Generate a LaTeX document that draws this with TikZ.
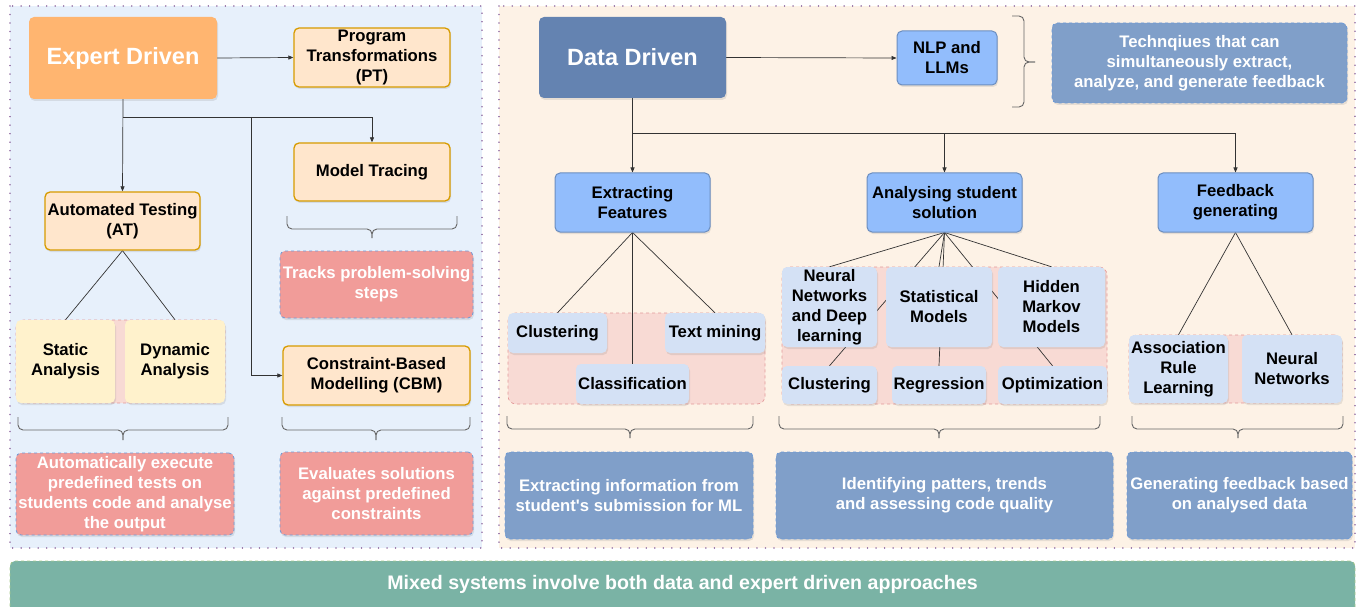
\documentclass[tikz,border=0pt]{standalone}
\usepackage{fontspec}
\setmainfont{Liberation Sans}[Ligatures=TeXOff]
\usetikzlibrary{arrows.meta,shadows}
\definecolor{lpanel}{HTML}{E7F0FB}
\definecolor{rpanel}{HTML}{FDF2E6}
\definecolor{panelline}{HTML}{9673A6}
\definecolor{edfill}{HTML}{FFB570}
\definecolor{orfill}{HTML}{FFE6CC}
\definecolor{orline}{HTML}{D79B00}
\definecolor{yelfill}{HTML}{FFF2CC}
\definecolor{grpfill}{HTML}{F8DAD4}
\definecolor{grpline}{HTML}{E39A9A}
\definecolor{redfill}{HTML}{F19C99}
\definecolor{dashblue}{HTML}{6C9AD8}
\definecolor{ddfill}{HTML}{6483B1}
\definecolor{midblue}{HTML}{92BDFC}
\definecolor{midline}{HTML}{6C8EBF}
\definecolor{smallfill}{HTML}{D4E1F5}
\definecolor{descblue}{HTML}{809FC9}
\definecolor{mixfill}{HTML}{7AB3A5}
\definecolor{mixline}{HTML}{A7C98C}
\definecolor{linec}{HTML}{333333}
\definecolor{bracec}{HTML}{666666}
\pgfdeclarelayer{panel}
\pgfdeclarelayer{edges}
\pgfsetlayers{panel,edges,main}
\begin{document}
\begin{tikzpicture}[x=1pt,y=-1pt,
  base/.style={rounded corners=5pt, align=center, inner sep=0pt,
    font=\fontsize{16.7}{20}\selectfont\bfseries,
    drop shadow={opacity=0.18, shadow xshift=1pt, shadow yshift=-2pt}},
  bigbox/.style={base, font=\fontsize{23.5}{26}\selectfont\bfseries, text=white},
  orbox/.style={base, fill=orfill, draw=orline, line width=1.3pt},
  yelbox/.style={base, fill=yelfill},
  redbox/.style={base, fill=redfill, draw=dashblue, dashed, line width=0.8pt, text=white},
  bluebox/.style={base, fill=midblue, draw=midline, line width=1pt},
  smallbox/.style={base, fill=smallfill},
  descbox/.style={base, fill=descblue, draw=dashblue, dashed, line width=0.8pt, text=white},
  grp/.style={rounded corners=8pt, fill=grpfill, draw=grpline, dashed, line width=0.7pt, inner sep=0pt},
  panelbox/.style={draw=panelline, line width=1.6pt, dash pattern=on 0.01pt off 8.5pt, line cap=round},
  conn/.style={draw=linec, line width=0.7pt},
  arr/.style={conn, -{Triangle[length=5pt,width=4pt]}},
  brc/.style={draw=bracec, line width=0.9pt, rounded corners=5pt}
]
\useasboundingbox (0,0) rectangle (1361,607);

% ---------- panels and groups ----------
\begin{pgfonlayer}{panel}
  \fill[lpanel] (10,6) rectangle (482,548);
  \draw[panelbox] (10,6) rectangle (482,548);
  \fill[rpanel] (499,6) rectangle (1355,548);
  \draw[panelbox] (499,6) rectangle (1355,548);
  \node[grp, minimum width=209, minimum height=83] (g1) at (120.5,361.5) {};
  \node[grp, minimum width=257, minimum height=91] (g2) at (636.5,358.5) {};
  \node[grp, minimum width=325, minimum height=137] (g3) at (944.5,335.5) {};
  \node[grp, minimum width=213, minimum height=68] (g4) at (1235.5,369) {};
\end{pgfonlayer}

% ---------- bottom bar ----------
\node[rounded corners=5pt, fill=mixfill, draw=mixline, dashed, line width=0.8pt,
  minimum width=1345, minimum height=52, inner sep=0pt, text=white,
  font=\fontsize{19.6}{22}\selectfont\bfseries] (mix) at (682.5,587)
  {\raisebox{9pt}{Mixed systems involve both data and expert driven approaches}};

% ---------- expert driven ----------
\node[bigbox, fill=edfill, minimum width=188, minimum height=82] (ed) at (123,58) {Expert Driven};
\node[orbox, minimum width=156, minimum height=59] (pt) at (372,57.5) {Program\\Transformations\\(PT)};
\node[orbox, minimum width=156, minimum height=58] (mt) at (372,172) {Model Tracing};
\node[orbox, minimum width=155, minimum height=58] (at) at (122.5,221) {Automated Testing\\(AT)};
\node[yelbox, minimum width=99, minimum height=83] (sa) at (65.5,361.5) {Static\\Analysis};
\node[yelbox, minimum width=100, minimum height=83] (da) at (175,361.5) {Dynamic\\Analysis};
\node[redbox, minimum width=193, minimum height=67] (tps) at (376.5,284.5) {Tracks problem-solving\\steps};
\node[orbox, minimum width=187, minimum height=59] (cbm) at (376.5,375.5) {Constraint-Based\\Modelling (CBM)};
\node[redbox, minimum width=218, minimum height=82] (ae) at (125,494) {Automatically execute\\predefined tests on\\students code and analyse\\the output};
\node[redbox, minimum width=193, minimum height=83] (es) at (376.5,493.5) {Evaluates solutions\\against predefined\\constraints};

% ---------- data driven ----------
\node[bigbox, fill=ddfill, minimum width=187, minimum height=81] (dd) at (632.5,57.5) {Data Driven};
\node[bluebox, minimum width=100, minimum height=54] (nlp) at (947,58) {NLP and\\LLMs};
\node[descbox, minimum width=295, minimum height=80] (tq) at (1199.5,63) {Technqiues that can\\simultaneously extract,\\analyze, and generate feedback};
\node[bluebox, minimum width=155, minimum height=59] (ef) at (632.5,202.5) {Extracting\\Features};
\node[bluebox, minimum width=155, minimum height=59] (as) at (944.5,202.5) {Analysing student\\solution};
\node[bluebox, minimum width=155, minimum height=59] (fg) at (1235.5,202.5) {Feedback\\generating};

\node[smallbox, minimum width=99, minimum height=40] (cl1) at (557.5,333) {Clustering};
\node[smallbox, minimum width=100, minimum height=40] (tm) at (715,333) {Text mining};
\node[smallbox, minimum width=113, minimum height=40] (cls) at (632.5,384) {Classification};

\node[smallbox, minimum width=95, minimum height=80] (nn) at (829.5,307) {Neural\\Networks\\and Deep\\learning};
\node[smallbox, minimum width=106, minimum height=80] (sm) at (939,307) {Statistical\\Models};
\node[smallbox, minimum width=107, minimum height=80] (hm) at (1051.5,307) {Hidden\\Markov\\Models};
\node[smallbox, minimum width=95, minimum height=38] (cl2) at (829.5,385) {Clustering};
\node[smallbox, minimum width=94, minimum height=38] (reg) at (939,385) {Regression};
\node[smallbox, minimum width=109, minimum height=38] (opt) at (1052.5,385) {Optimization};

\node[smallbox, minimum width=99, minimum height=68] (arl) at (1178.5,369) {Association\\Rule\\Learning};
\node[smallbox, minimum width=100, minimum height=68] (nn2) at (1292,369) {Neural\\Networks};

\node[descbox, minimum width=248, minimum height=87] (ei) at (629,495.5) {Extracting information from\\student's submission for ML};
\node[descbox, minimum width=337, minimum height=87] (idp) at (944.5,495.5) {Identifying patters, trends\\and assessing code quality};
\node[descbox, minimum width=225, minimum height=87] (gf) at (1239.5,495.5) {Generating feedback based\\on analysed data};

% ---------- connectors ----------
\begin{pgfonlayer}{edges}
  \draw[arr] (ed.east) -- (pt.west);
  \draw[arr] (ed.south) -- (at.north);
  \coordinate (j1) at (251,117);
  \draw[arr] (ed.south |- j1) -| (mt.north);
  \draw[arr] (j1) |- (cbm.west);
  \draw[conn] (at.south) -- (sa.north);
  \draw[conn] (at.south) -- (da.north);

  \draw[arr] (dd.east) -- (nlp.west);
  \draw[arr] (dd.south) -- (ef.north);
  \coordinate (j2) at (632.5,133);
  \draw[arr] (j2) -| (as.north);
  \draw[arr] (j2) -| (fg.north);

  \draw[conn] (ef.south) -- (cl1.north);
  \draw[conn] (ef.south) -- (cls.north);
  \draw[conn] (ef.south) -- (tm.north);

  \draw[conn] (as.south) -- (nn.north);
  \draw[conn] (as.south) -- (cl2.north);
  \draw[conn] (as.south) -- (sm.north);
  \draw[conn] (as.south) -- (reg.north);
  \draw[conn] (as.south) -- (hm.north);
  \draw[conn] (as.south) -- (opt.north);

  \draw[conn] (fg.south) -- (arl.north);
  \draw[conn] (fg.south) -- (nn2.north);
\end{pgfonlayer}

% ---------- braces ----------
\draw[brc] (18,417) |- (123,430) -- (123,440);
\draw[brc] (228,417) |- (123,430) -- (123,440);
\draw[brc] (287,216) |- (372,229) -- (372,238);
\draw[brc] (457,216) |- (372,229) -- (372,238);
\draw[brc] (282,417) |- (376,430) -- (376,440);
\draw[brc] (470,417) |- (376,430) -- (376,440);

\draw[brc] (507,416) |- (630,429) -- (630,438);
\draw[brc] (753,416) |- (630,429) -- (630,438);
\draw[brc] (779,416) |- (939,429) -- (939,438);
\draw[brc] (1100,416) |- (939,429) -- (939,438);
\draw[brc] (1132,416) |- (1238,429) -- (1238,438);
\draw[brc] (1343,416) |- (1238,429) -- (1238,438);

\draw[brc] (1012,16) -| (1024,62) -- (1035,62);
\draw[brc] (1012,107) -| (1024,62) -- (1035,62);
\end{tikzpicture}
\end{document}
